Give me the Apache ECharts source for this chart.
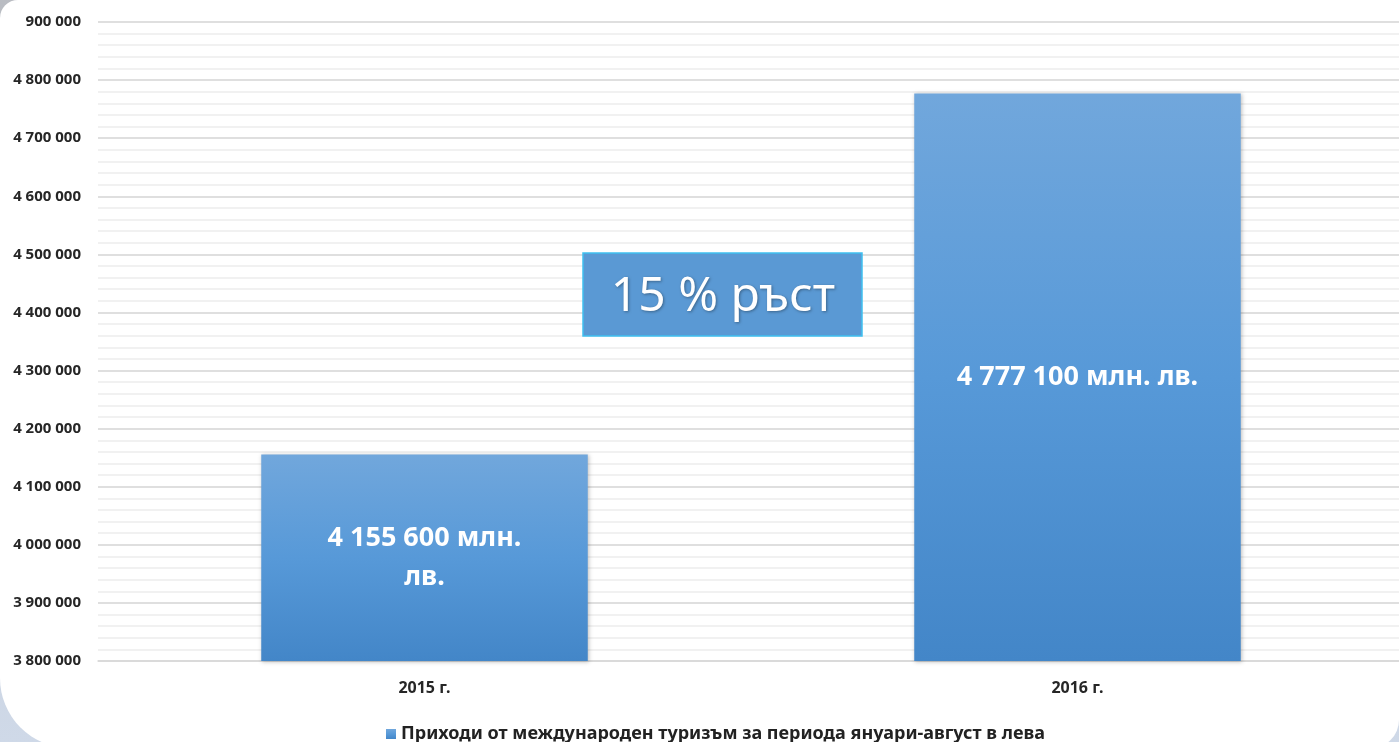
<!DOCTYPE html>
<html>
<head>
<meta charset="utf-8">
<script src="https://cdn.jsdelivr.net/npm/echarts@6/dist/echarts.min.js"></script>
<style>
  html, body { margin: 0; padding: 0; background: #fff; overflow: hidden; }
  #chart { width: 1410px; height: 742px; }
</style>
</head>
<body>
<div id="chart"></div>
<script>
// данни
var categories = ['2015 г.', '2016 г.'];
var revenue = [4155600, 4777100];
var barLabels = ['4 155 600 млн.\nлв.', '4 777 100 млн. лв.'];
var yTickLabels = ['3 800 000', '3 900 000', '4 000 000', '4 100 000', '4 200 000', '4 300 000',
  '4 400 000', '4 500 000', '4 600 000', '4 700 000', '4 800 000', '900 000'];
var seriesName = 'Приходи от международен туризъм за периода януари-август в лева';
var growthText = '15 % ръст';

var font = 'Noto Sans';
// диаграмата е малко по-широка от прозореца - дясната част на мрежата излиза извън кадъра
var myChart = echarts.init(document.getElementById('chart'));

var option = {
  backgroundColor: '#fff',
  animation: false,
  graphic: [
    {
      type: 'rect', z: -20, silent: true,
      shape: { x: 0, y: 0, width: 1410, height: 742 },
      style: {
        fill: new echarts.graphic.LinearGradient(0, 0, 0, 1, [
          { offset: 0, color: '#b9bcc2' },
          { offset: 1, color: '#cfd9e8' }
        ])
      }
    },
    {
      type: 'rect', z: -19, silent: true,
      shape: { x: 0, y: 0, width: 1399, height: 748, r: [18, 0, 28, 70] },
      style: { fill: '#fff' }
    },
    {
      // текстово поле "ръст"
      type: 'rect', z: 100,
      shape: { x: 583, y: 253, width: 279, height: 83 },
      style: { fill: '#5a99d4', stroke: '#3fc0f0', lineWidth: 1.5 }
    },
    {
      type: 'text', z: 101,
      x: 723, y: 297,
      style: {
        text: growthText,
        fill: '#fff',
        font: '48px "' + font + '"',
        align: 'center',
        verticalAlign: 'middle',
        textShadowColor: 'rgba(0,0,0,0.35)',
        textShadowBlur: 3,
        textShadowOffsetX: 1,
        textShadowOffsetY: 1
      }
    }
  ],
  legend: {
    data: [seriesName],
    top: 720,
    left: 381,
    icon: 'rect',
    itemWidth: 10,
    itemHeight: 10,
    itemGap: 5,
    textStyle: { fontFamily: font, fontWeight: 'bold', fontSize: 18, color: '#222' }
  },
  grid: { left: 98, right: 6, top: 22, bottom: 81, containLabel: false },
  xAxis: {
    type: 'category',
    data: categories,
    axisTick: { show: false },
    axisLine: { lineStyle: { color: '#d9d9d9', width: 1.5 } },
    axisLabel: { margin: 19, fontFamily: font, fontWeight: 'bold', fontSize: 16, color: '#262626' }
  },
  yAxis: {
    type: 'value',
    min: 3800000,
    max: 4900000,
    interval: 100000,
    axisLine: { show: false },
    axisTick: { show: false },
    axisLabel: {
      margin: 17,
      fontFamily: font, fontWeight: 'bold', fontSize: 15, color: '#262626',
      formatter: function (v) {
        return yTickLabels[Math.round((v - 3800000) / 100000)];
      }
    },
    splitLine: { lineStyle: { color: '#d4d4d4', width: 1.5 } },
    minorTick: { show: false, splitNumber: 5 },
    minorSplitLine: { show: true, lineStyle: { color: '#ededed', width: 1.5 } }
  },
  series: [
    {
      name: seriesName,
      type: 'bar',
      barWidth: '50%',
      data: revenue,
      itemStyle: {
        color: new echarts.graphic.LinearGradient(0, 0, 0, 1, [
          { offset: 0, color: '#71a7dc' },
          { offset: 0.5, color: '#5799d8' },
          { offset: 1, color: '#4386c8' }
        ]),
        shadowColor: 'rgba(0,0,0,0.25)',
        shadowBlur: 4,
        shadowOffsetX: 1,
        shadowOffsetY: 1
      },
      label: {
        show: true,
        position: 'inside',
        color: '#fff',
        fontFamily: font,
        fontWeight: 'bold',
        fontSize: 27,
        lineHeight: 39,
        align: 'center',
        formatter: function (p) {
          return barLabels[p.dataIndex];
        }
      }
    }
  ]
};
myChart.setOption(option);
</script>
</body>
</html>
